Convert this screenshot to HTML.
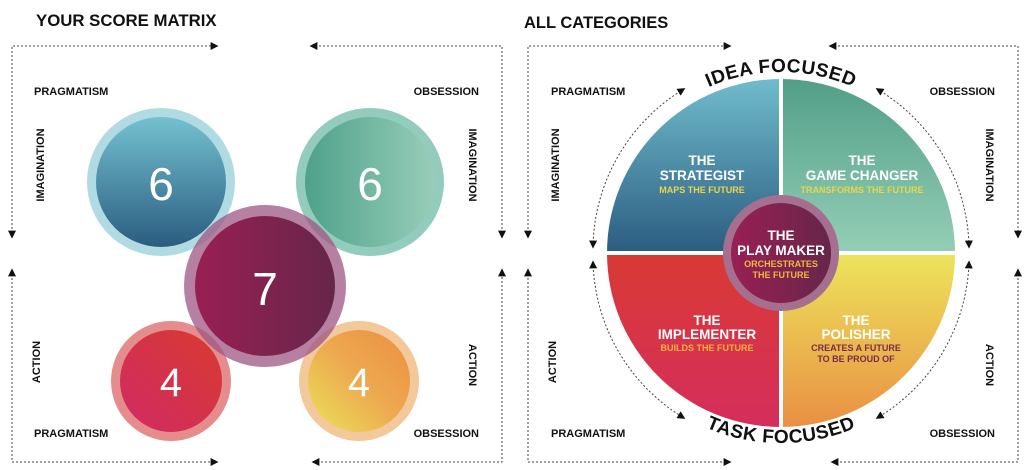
<!DOCTYPE html>
<html><head><meta charset="utf-8"><style>
html,body{margin:0;padding:0;background:#fff;}
svg{display:block;font-family:"Liberation Sans",sans-serif;}
.t{font-weight:bold;font-size:11px;fill:#111;}
</style></head><body>
<svg width="1024" height="470" viewBox="0 0 1024 470" xmlns="http://www.w3.org/2000/svg">
<defs>
<marker id="ar" viewBox="0 0 10 10" refX="8" refY="5" markerWidth="8" markerHeight="8" orient="auto-start-reverse"><path d="M0,0 L10,5 L0,10 z" fill="#111"/></marker>
<linearGradient id="gb" x1="0" y1="0" x2="0" y2="1"><stop offset="0" stop-color="#74c1d0"/><stop offset="1" stop-color="#2b5c80"/></linearGradient>
<linearGradient id="gg" x1="0" y1="0" x2="1" y2="0"><stop offset="0" stop-color="#4ea18a"/><stop offset="1" stop-color="#98cdb9"/></linearGradient>
<linearGradient id="gg2" x1="0" y1="0" x2="0" y2="1"><stop offset="0" stop-color="#4e9c85"/><stop offset="1" stop-color="#95ceb7"/></linearGradient>
<linearGradient id="gp" x1="0" y1="0" x2="1" y2="0"><stop offset="0" stop-color="#9a1f53"/><stop offset="1" stop-color="#66264a"/></linearGradient>
<linearGradient id="gr" x1="0" y1="1" x2="1" y2="0"><stop offset="0" stop-color="#d02a66"/><stop offset="1" stop-color="#d83a2e"/></linearGradient>
<linearGradient id="gr2" x1="0" y1="0" x2="0" y2="1"><stop offset="0" stop-color="#d93a34"/><stop offset="1" stop-color="#d42d5f"/></linearGradient>
<linearGradient id="go" x1="0" y1="1" x2="1" y2="0"><stop offset="0" stop-color="#ece35a"/><stop offset="0.5" stop-color="#edaa50"/><stop offset="1" stop-color="#ec8e40"/></linearGradient>
<linearGradient id="go2" x1="0" y1="0" x2="0" y2="1"><stop offset="0" stop-color="#ece55b"/><stop offset="1" stop-color="#e98a42"/></linearGradient>
<clipPath id="cq"><circle cx="781" cy="253" r="174"/></clipPath>
<path id="idea" d="M 600 253 A 181 181 0 0 1 962 253"/>
<path id="task" d="M 591 253 A 190 190 0 0 0 971 253"/>
</defs>

<!-- LEFT PANEL -->
<text x="36" y="26" font-size="16.8" font-weight="bold" fill="#111">YOUR SCORE MATRIX</text>
<g stroke="#444" stroke-width="1" stroke-dasharray="2,2" fill="none">
<path d="M12 237 V46 H217" marker-end="url(#ar)" marker-start="url(#ar)"/>
<path d="M311 46 H502 V237" marker-end="url(#ar)" marker-start="url(#ar)"/>
<path d="M12 270 V462 H217" marker-end="url(#ar)" marker-start="url(#ar)"/>
<path d="M313 462 H502 V270" marker-end="url(#ar)" marker-start="url(#ar)"/>
</g>
<text class="t" x="34" y="95">PRAGMATISM</text>
<text class="t" x="479" y="95" text-anchor="end">OBSESSION</text>
<text class="t" x="34" y="437">PRAGMATISM</text>
<text class="t" x="479" y="437" text-anchor="end">OBSESSION</text>
<text class="t" transform="translate(44,165) rotate(-90)" text-anchor="middle">IMAGINATION</text>
<text class="t" transform="translate(469,165) rotate(90)" text-anchor="middle">IMAGINATION</text>
<text class="t" transform="translate(40,362) rotate(-90)" text-anchor="middle">ACTION</text>
<text class="t" transform="translate(469,365) rotate(90)" text-anchor="middle">ACTION</text>

<circle cx="161" cy="182" r="74" fill="#b0dbe2"/>
<circle cx="161" cy="182" r="65" fill="url(#gb)"/>
<circle cx="370" cy="182" r="74" fill="#93cbbd"/>
<circle cx="370" cy="182" r="65" fill="url(#gg)"/>
<circle cx="171" cy="381" r="60" fill="#e58d8d"/>
<circle cx="171" cy="381" r="51" fill="url(#gr)"/>
<circle cx="359" cy="381" r="60" fill="#f3c89b"/>
<circle cx="359" cy="381" r="51" fill="url(#go)"/>
<circle cx="265" cy="286" r="81" fill="#9e5683" opacity="0.75"/>
<circle cx="265" cy="286" r="70" fill="url(#gp)"/>
<g fill="#fff" font-size="46" text-anchor="middle">
<text x="161" y="200">6</text><text x="370" y="200">6</text>
<text x="265" y="305">7</text>
</g>
<g fill="#fff" font-size="40" text-anchor="middle">
<text x="171" y="396">4</text><text x="359" y="396">4</text>
</g>

<!-- RIGHT PANEL -->
<text x="524" y="28" font-size="16.5" font-weight="bold" fill="#111">ALL CATEGORIES</text>
<g stroke="#444" stroke-width="1" stroke-dasharray="2,2" fill="none">
<path d="M528 237 V46 H730" marker-end="url(#ar)" marker-start="url(#ar)"/>
<path d="M830 46 H1018 V237" marker-end="url(#ar)" marker-start="url(#ar)"/>
<path d="M528 270 V462 H730" marker-end="url(#ar)" marker-start="url(#ar)"/>
<path d="M832 462 H1018 V270" marker-end="url(#ar)" marker-start="url(#ar)"/>
<path d="M684 89 A188 188 0 0 0 593 247" marker-end="url(#ar)" marker-start="url(#ar)"/>
<path d="M593 262 A188 188 0 0 0 684 418" marker-end="url(#ar)" marker-start="url(#ar)"/>
<path d="M877 89 A188 188 0 0 1 969 247" marker-end="url(#ar)" marker-start="url(#ar)"/>
<path d="M969 262 A188 188 0 0 1 877 418" marker-end="url(#ar)" marker-start="url(#ar)"/>
</g>
<text class="t" x="551" y="95">PRAGMATISM</text>
<text class="t" x="995" y="95" text-anchor="end">OBSESSION</text>
<text class="t" x="551" y="437">PRAGMATISM</text>
<text class="t" x="995" y="437" text-anchor="end">OBSESSION</text>
<text class="t" transform="translate(559,165) rotate(-90)" text-anchor="middle">IMAGINATION</text>
<text class="t" transform="translate(986,165) rotate(90)" text-anchor="middle">IMAGINATION</text>
<text class="t" transform="translate(556,362) rotate(-90)" text-anchor="middle">ACTION</text>
<text class="t" transform="translate(986,365) rotate(90)" text-anchor="middle">ACTION</text>

<g clip-path="url(#cq)">
<rect x="600" y="70" width="181" height="183" fill="url(#gb)"/>
<rect x="781" y="70" width="185" height="183" fill="url(#gg2)"/>
<rect x="600" y="253" width="181" height="185" fill="url(#gr2)"/>
<rect x="781" y="253" width="185" height="185" fill="url(#go2)"/>
</g>
<rect x="779" y="70" width="4" height="370" fill="#fff"/>
<rect x="600" y="251" width="370" height="4" fill="#fff"/>
<circle cx="781" cy="253" r="58" fill="#a5708f"/>
<circle cx="781" cy="253" r="50" fill="url(#gp)"/>

<text font-size="19" font-weight="bold" fill="#111" letter-spacing="0.5"><textPath href="#idea" startOffset="50%" text-anchor="middle">IDEA FOCUSED</textPath></text>
<text font-size="19" font-weight="bold" fill="#111" letter-spacing="0.5"><textPath href="#task" startOffset="50%" text-anchor="middle">TASK FOCUSED</textPath></text>

<g font-weight="bold" text-anchor="middle" fill="#fff" font-size="13.5">
<text x="702" y="165">THE</text><text x="702" y="180">STRATEGIST</text>
<text x="862" y="165">THE</text><text x="862" y="180">GAME CHANGER</text>
<text x="781" y="240">THE</text><text x="781" y="255">PLAY MAKER</text>
<text x="707" y="325">THE</text><text x="707" y="339">IMPLEMENTER</text>
<text x="856" y="325">THE</text><text x="856" y="339">POLISHER</text>
</g>
<g font-weight="bold" text-anchor="middle" font-size="9" fill="#e9d64a">
<text x="702" y="193">MAPS THE FUTURE</text>
<text x="862" y="193">TRANSFORMS THE FUTURE</text>
<text x="781" y="267" fill="#f0b840">ORCHESTRATES</text>
<text x="781" y="278" fill="#f0b840">THE FUTURE</text>
<text x="707" y="351" fill="#f3b13b">BUILDS THE FUTURE</text>
<text x="856" y="351" fill="#7a2b48">CREATES A FUTURE</text>
<text x="856" y="362" fill="#7a2b48">TO BE PROUD OF</text>
</g>
</svg>
</body></html>
